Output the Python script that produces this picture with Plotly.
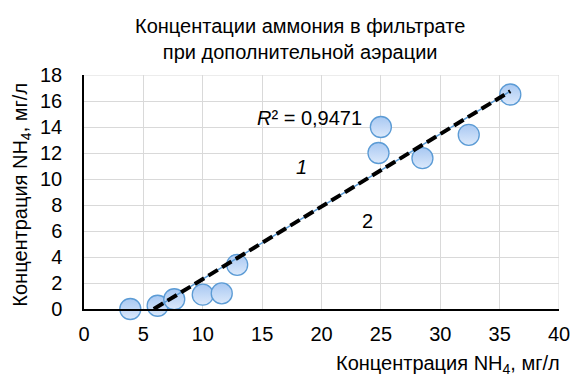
import plotly.graph_objects as go

# Measured ammonium concentrations (mg/L)
nh4_x = [3.9, 6.2, 7.6, 10.0, 11.6, 12.9, 25.0, 24.8, 28.5, 32.4, 35.9]
nh4_y = [0.0, 0.25, 0.75, 1.1, 1.2, 3.4, 14.0, 12.0, 11.6, 13.4, 16.5]

x_ticks = [0, 5, 10, 15, 20, 25, 30, 35, 40]
y_ticks = [0, 2, 4, 6, 8, 10, 12, 14, 16, 18]

# Linear trend y = a*x + b
trend_slope = 0.558
trend_intercept = -3.28
r2_label = "<i>R</i>² = 0,9471"

# trend drawn from where it crosses y = 0 up to the last point
x0 = -trend_intercept / trend_slope
x1 = max(nh4_x)
trend_x = [x0, x1]
trend_y = [trend_slope * v + trend_intercept for v in trend_x]

font = "Liberation Sans, Arial, sans-serif"
fs = 20

fig = go.Figure()
fig.add_trace(go.Scatter(
    x=nh4_x, y=nh4_y, mode="markers",
    marker=dict(size=21, color="#a8c8f2",
                gradient=dict(type="vertical", color="#dce9fb"),
                line=dict(color="#5b9bd5", width=1.3)),
    cliponaxis=False, showlegend=False,
))
# trend lines sit on top of the markers
fig.add_trace(go.Scatter(
    x=trend_x, y=trend_y, mode="lines",
    line=dict(color="#5b9bd5", width=1.5),
    hoverinfo="skip", showlegend=False,
))
fig.add_trace(go.Scatter(
    x=trend_x, y=trend_y, mode="lines",
    line=dict(color="black", width=4, dash="11px,5px"),
    hoverinfo="skip", showlegend=False,
))

ann_font = dict(size=fs, color="black", family=font)
fig.add_annotation(x=19.0, y=14.7, text=r2_label, showarrow=False, font=ann_font)
fig.add_annotation(x=18.3, y=10.95, text="<i>1</i>", showarrow=False, font=ann_font)
fig.add_annotation(x=23.9, y=6.8, text="2", showarrow=False, font=ann_font)

# chart title
fig.add_annotation(xref="paper", yref="paper", x=0.455, y=1.0 + (75 - 39) / 234,
                   text="Концентации аммония в фильтрате<br>при дополнительной аэрации",
                   showarrow=False, font=ann_font, align="center",
                   xanchor="center", yanchor="middle")
# axis titles
fig.add_annotation(xref="paper", yref="paper", x=1.0 + 3 / 485, y=-(364 - 309) / 234,
                   text="Концентрация NH<sub>4</sub>, мг/л", showarrow=False,
                   font=ann_font, xanchor="right", yanchor="middle")
fig.add_annotation(xref="paper", yref="paper", x=-(84 - 20) / 485, y=0.49,
                   text="Концентрация NH<sub>4</sub>, мг/л", showarrow=False,
                   font=ann_font, textangle=-90, xanchor="center", yanchor="middle")

fig.update_layout(
    width=582, height=378,
    margin=dict(l=84, r=13, t=75, b=69),
    paper_bgcolor="white", plot_bgcolor="white",
    font=dict(family=font, size=fs, color="black"),
    xaxis=dict(range=[0, 40], tickvals=x_ticks, ticks="", showgrid=True,
               gridcolor="#d9d9d9", gridwidth=1, zeroline=False,
               showline=True, linecolor="black", linewidth=1.5,
               tickfont=dict(size=fs), ticklabelstandoff=6),
    yaxis=dict(range=[0, 18], tickvals=y_ticks, ticks="", showgrid=True,
               gridcolor="#d9d9d9", gridwidth=1, zeroline=False,
               showline=True, linecolor="black", linewidth=1.5,
               tickfont=dict(size=fs), ticklabelstandoff=16),
)

# right and top border gridlines
fig.add_shape(type="line", xref="x", yref="y", x0=40, x1=40, y0=0, y1=18,
              line=dict(color="#d9d9d9", width=1), layer="below")
fig.add_shape(type="line", xref="x", yref="y", x0=0, x1=40, y0=18, y1=18,
              line=dict(color="#d9d9d9", width=1), layer="below")

fig.write_html("out.html")
